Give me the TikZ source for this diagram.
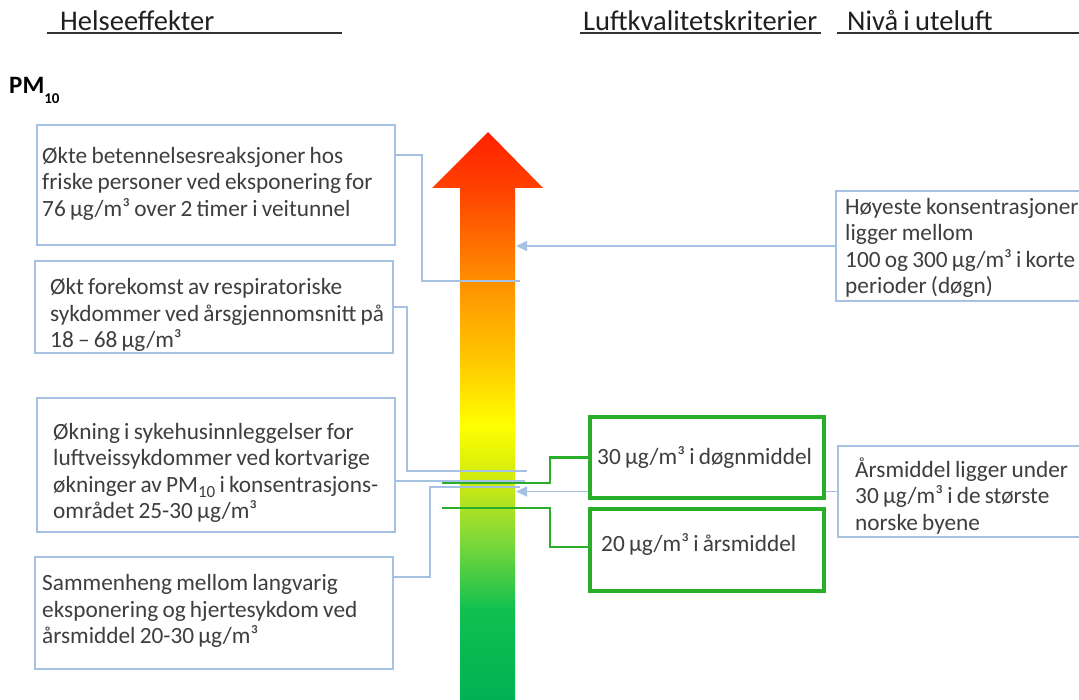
\documentclass[tikz,border=0pt]{standalone}
\usepackage{fontspec}
\setmainfont{Carlito}[WordSpace=0.8]
\usetikzlibrary{arrows.meta}
\definecolor{boxblue}{RGB}{167,193,226}
\definecolor{txtgray}{RGB}{62,62,62}
\definecolor{pmgreen}{RGB}{40,174,40}
\definecolor{c1}{RGB}{255,32,0}
\definecolor{c2}{RGB}{255,66,0}
\definecolor{c3}{RGB}{255,150,0}
\definecolor{c4}{RGB}{255,200,0}
\definecolor{c5}{RGB}{255,255,0}
\definecolor{c6}{RGB}{208,234,16}
\definecolor{c7}{RGB}{128,216,56}
\definecolor{c8}{RGB}{16,192,80}
\definecolor{c9}{RGB}{0,178,84}
\pgfdeclareverticalshading{pmscale}{100bp}{color(0bp)=(c9); color(25bp)=(c9); color(32.9bp)=(c8); color(39.1bp)=(c7); color(44.4bp)=(c6); color(49.2bp)=(c5); color(54.9bp)=(c4); color(61.1bp)=(c3); color(69.9bp)=(c2); color(75bp)=(c1); color(100bp)=(c1)}
\newcommand{\pmsub}[1]{\raisebox{-5pt}{\fontsize{17}{17}\selectfont #1}}
\tikzset{
	hbox/.style={draw=boxblue,line width=1.4pt,fill=white,anchor=north west,outer sep=0pt,
		inner sep=0pt,minimum width=358pt},
	nbox/.style={hbox,minimum width=300pt},
	gbox/.style={draw=pmgreen,line width=4pt,fill=white,anchor=north west,outer sep=0pt,
		inner sep=0pt,minimum width=234pt},
	htxt/.style={anchor=west,inner sep=0pt,align=left,text=txtgray,
		font=\fontsize{23.3}{26.5}\selectfont},
	head/.style={anchor=base west,inner sep=0pt,text=black!88,font=\fontsize{28.5}{32}\selectfont},
	uline/.style={draw=black!80,line width=1.3pt},
	bline/.style={draw=boxblue,line width=1.4pt},
	barrow/.style={bline,-{Triangle[width=10pt,length=11pt]}},
	gline/.style={draw=pmgreen,line width=2.8pt}
}
\begin{document}
\begin{tikzpicture}[x=1pt,y=-1pt]
	\useasboundingbox (0,0) rectangle (1079,700);
	\clip (0,0) rectangle (1079,700);

	% headings
	\node[head] (h1) at (60,31) {Helseeffekter};
	\node[head] (h2) at (583,31) {Luftkvalitetskriterier};
	\node[head] (h3) at (847,31) {Nivå i uteluft};
	\draw[uline] ([xshift=-13pt,yshift=-2pt]h1.base west) -- ++(295,0);
	\draw[uline] ([xshift=-3pt,yshift=-2pt]h2.base west) -- ++(241,0);
	\draw[uline] ([xshift=-10pt,yshift=-2pt]h3.base west) -- ++(245,0);
	\node[anchor=base west,inner sep=0pt,text=black,font=\bfseries\fontsize{25}{25}\selectfont] (pm) at (9,94)
		{PM\raisebox{-10pt}{\fontsize{15}{15}\selectfont 10}};

	% the arrow
	\path[shading=pmscale] (460,700) -- (460,188) -- (432,188) -- (488,132) -- (543,188)
		-- (515,188) -- (515,700) -- cycle;
	\coordinate (shaftR) at (516,0);
	\coordinate (e1) at (520,281);
	\coordinate (e2) at (527,471);
	\coordinate (e3) at (525,481);
	\coordinate (e4) at (520,487);
	\coordinate (g1) at (442,483);
	\coordinate (g2) at (442,508);

	% health effects
	\node[hbox,minimum height=120pt] (b1) at (37,125) {};
	\node[hbox,minimum height=92pt] (b2) at (35,261) {};
	\node[hbox,minimum height=134pt] (b3) at (37,398) {};
	\node[hbox,minimum height=112pt] (b4) at (35,557) {};
	\node[htxt] (t1) at ([xshift=5pt,yshift=1.5pt]b1.west)
		{Økte betennelsesreaksjoner hos\\ friske personer ved eksponering for\\ 76 µg/m³ over 2 timer i veitunnel};
	\node[htxt] (t2) at ([xshift=15pt,yshift=-8pt]b2.west)
		{Økt forekomst av respiratoriske\\ sykdommer ved årsgjennomsnitt på\\ 18 – 68 µg/m³};
	\node[htxt] (t3) at ([xshift=16pt,yshift=-8pt]b3.west)
		{Økning i sykehusinnleggelser for\\ luftveissykdommer ved kortvarige\\ økninger av PM\pmsub{10} i konsentrasjons-\\ området 25-30 µg/m³};
	\node[htxt] (t4) at ([xshift=7pt,yshift=2pt]b4.west)
		{Sammenheng mellom langvarig\\ eksponering og hjertesykdom ved\\ årsmiddel 20-30 µg/m³};

	\draw[bline] ([yshift=30pt]b1.east) -- ++(27,0) |- (e1);
	\draw[bline] (b2.east) -- ++(14,0) |- (e2);
	\draw[bline] ([yshift=-16pt]b3.east) -- (e3);
	\draw[bline] ([yshift=36pt]b4.east) -- ++(37,0) |- (e4);

	% levels outdoors
	\node[nbox,minimum height=110pt] (r1) at (836,191) {};
	\node[nbox,minimum height=91pt] (r2) at (838,446) {};
	\node[htxt] (tr1) at ([xshift=9pt,yshift=-2pt]r1.west)
		{Høyeste konsentrasjoner\\ ligger mellom\\ 100 og 300 µg/m³ i korte\\ perioder (døgn)};
	\node[htxt] (tr2) at ([xshift=17pt,yshift=-4.5pt]r2.west)
		{Årsmiddel ligger under\\ 30 µg/m³ i de største\\ norske byene};
	\draw[barrow] (r1.west) -- (r1.west -| shaftR);
	\draw[barrow] (r2.west) -- (r2.west -| shaftR);

	% air quality criteria
	\node[gbox,minimum height=81pt] (gA) at (590,417) {};
	\node[gbox,minimum height=82pt] (gB) at (590,509) {};
	\node[htxt] (tA) at ([xshift=7pt]gA.west) {30 µg/m³ i døgnmiddel};
	\node[htxt] (tB) at ([xshift=11pt,yshift=5pt]gB.west) {20 µg/m³ i årsmiddel};
	\draw[gline] (gA.west) -- ++(-40,0) |- (g1);
	\draw[gline] ([yshift=3pt]gB.west) -- ++(-40,0) |- (g2);
\end{tikzpicture}
\end{document}
